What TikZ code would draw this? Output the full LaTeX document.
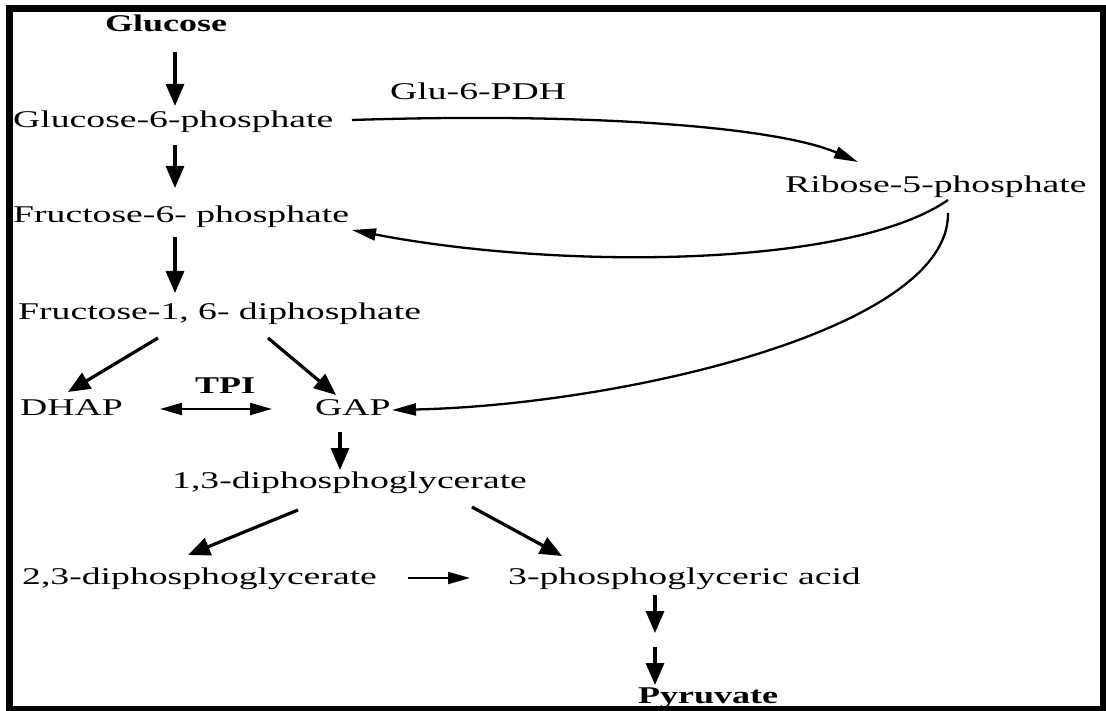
\documentclass[tikz,border=0pt]{standalone}
\usepackage{fontspec}
\setmainfont{Liberation Serif}[FakeStretch=1.57]
\newfontfamily\widebold{Liberation Serif}[UprightFont={* Bold},FakeStretch=1.5]
\usetikzlibrary{arrows.meta}

\tikzset{
  met/.style={inner xsep=0pt,inner ysep=16pt,anchor=base west,font=\fontsize{24}{28}\selectfont},
  metb/.style={met,font=\fontsize{24}{28}\widebold},
  arr/.style={line width=3.2pt,-{Triangle[length=22pt,width=18pt]}},
  thinarr/.style={line width=1.8pt,-{Triangle[length=22pt,width=12pt]}},
  curvearr/.style={line width=2.3pt,-{Triangle[length=24pt,width=12pt]}}
}

\begin{document}
\begin{tikzpicture}[x=1pt,y=-1pt]
    \useasboundingbox (0,0) rectangle (1106,711);
    \draw[line width=7pt] (9,9) rectangle (1103,709);
    % metabolites
    \node[metb] (glc) at (105,32) {Glucose};
    \node[met] (g6p) at (13,128) {Glucose-6-phosphate};
    \node[met] (pdh) at (390,100) {Glu-6-PDH};
    \node[met] (r5p) at (785,193) {Ribose-5-phosphate};
    \node[met] (f6p) at (13,223) {Fructose-6- phosphate};
    \node[met] (fdp) at (18,320) {Fructose-1, 6- diphosphate};
    \node[met] (dhap) at (20,415) {DHAP};
    \node[metb] (tpi) at (195,393) {TPI};
    \node[met] (gap) at (315,415) {GAP};
    \node[met] (dpg13) at (172,488) {1,3-diphosphoglycerate};
    \node[met] (dpg23) at (22,584) {2,3-diphosphoglycerate};
    \node[met] (pga) at (508,584) {3-phosphoglyceric acid};
    \node[metb] (pyr) at (638,703) {Pyruvate};
    \coordinate (mid) at (655,640);
    % glycolysis
    \draw[arr] ([shift={(70,20)}]glc.base west) -- ([shift={(162,-22)}]g6p.base west);
    \draw[arr] ([shift={(162,17)}]g6p.base west) -- ([shift={(162,-35)}]f6p.base west);
    \draw[arr] ([shift={(162,14)}]f6p.base west) -- ([shift={(157,-27)}]fdp.base west);
    \draw[arr] ([shift={(140,18)}]fdp.base west) -- ([shift={(48,-23)}]dhap.base west);
    \draw[arr] ([shift={(250,18)}]fdp.base west) -- ([shift={(21,-20)}]gap.base west);
    \draw[thinarr,{Triangle[length=22pt,width=12pt]}-{Triangle[length=22pt,width=12pt]}]
      ([shift={(140,-6)}]dhap.base west) -- ([shift={(-43,-6)}]gap.base west);
    \draw[arr] ([shift={(25,17)}]gap.base west) -- ([shift={(168,-18)}]dpg13.base west);
    \draw[arr] ([shift={(126,22)}]dpg13.base west) -- ([shift={(166,-29)}]dpg23.base west);
    \draw[arr] ([shift={(300,19)}]dpg13.base west) -- ([shift={(54,-28)}]pga.base west);
    \draw[thinarr] ([shift={(386,-6)}]dpg23.base west) -- ([shift={(-38,-6)}]pga.base west);
    \draw[arr] ([shift={(147,11)}]pga.base west) -- ([shift={(0,-7)}]mid);
    \draw[arr] ([shift={(0,7)}]mid) -- ([shift={(17,-18)}]pyr.base west);
    % pentose phosphate shunt
    \draw[curvearr] ([shift={(339,-8)}]g6p.base west) .. controls (600,112) and (780,128) .. ([shift={(73,-31)}]r5p.base west);
    \draw[curvearr] ([shift={(163,7)}]r5p.base west) .. controls (850,268) and (560,270) .. ([shift={(339,7)}]f6p.base west);
    \draw[curvearr] ([shift={(163,20)}]r5p.base west) .. controls (950,330) and (620,405) .. ([shift={(77,-5)}]gap.base west);
\end{tikzpicture}
\end{document}
